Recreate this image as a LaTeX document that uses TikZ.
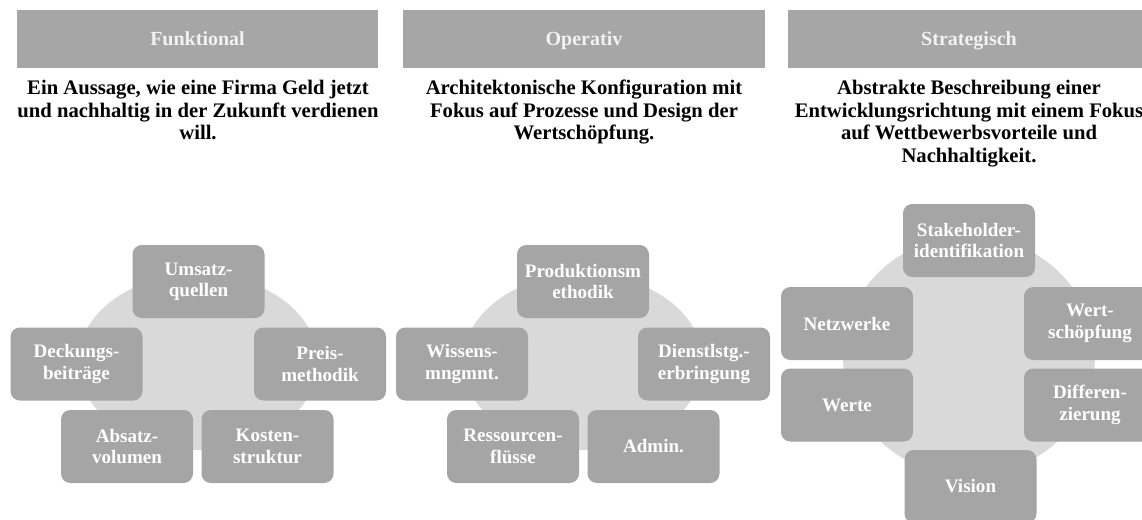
\documentclass[tikz,border=0pt]{standalone}
\usepackage{fontspec}
\setmainfont{Liberation Serif}
\usepackage{xcolor}
\usepackage{tikz}
\usetikzlibrary{positioning}

\definecolor{barg}{HTML}{A6A6A6}
\definecolor{boxg}{HTML}{A5A5A5}
\definecolor{discg}{HTML}{D9D9D9}

\begin{document}
\begin{tikzpicture}[x=0.75pt,y=-0.75pt,
  head/.style={fill=barg,text=white!95!black,font=\fontsize{15}{18}\selectfont\bfseries,minimum width=271pt,minimum height=43.5pt,inner sep=0pt,text height=10pt,text depth=0pt},
  desc/.style={align=center,font=\fontsize{15.5}{16.9}\selectfont\bfseries,inner sep=0pt,anchor=north},
  item/.style={fill=boxg,rounded corners=7pt,text=white,align=center,font=\fontsize{14.3}{16}\selectfont\bfseries,minimum width=99pt,minimum height=54.75pt,inner sep=0pt},
  disc/.style={fill=discg}]
\useasboundingbox (0,0) rectangle (1142,519);

% headers
\node[head] (hf) at (197.5,39) {Funktional};
\node[head] (ho) at (584,39) {Operativ};
\node[head] (hs) at (969,39) {Strategisch};

\node[desc] (tf) at (198,80) {Ein Aussage, wie eine Firma Geld jetzt\\und nachhaltig in der Zukunft verdienen\\will.};
\node[desc] (to) at (584,80) {Architektonische Konfiguration mit\\Fokus auf Prozesse und Design der\\Wertschöpfung.};
\node[desc] (ts) at (969,80) {Abstrakte Beschreibung einer\\Entwicklungsrichtung mit einem Fokus\\auf Wettbewerbsvorteile und\\Nachhaltigkeit.};

% backgrounds
\coordinate (cf) at (198,362);
\coordinate (co) at (583,362);
\coordinate (cs) at (969,356);
\fill[disc] (cf) ellipse [x radius=90pt, y radius=66pt];
\fill[disc] (co) ellipse [x radius=90pt, y radius=66pt];
\fill[disc] (cs) ellipse [x radius=94.5pt, y radius=90pt];

% funktional
\node[item] (uq) at (198.5,281.5) {Umsatz-\\quellen};
\node[item] (db) at (76.5,364) {Deckungs-\\beiträge};
\node[item] (pm) at (320,364) {Preis-\\methodik};
\node[item] (av) at (127,446.5) {Absatz-\\volumen};
\node[item] (ks) at (267.5,446.5) {Kosten-\\struktur};

% operativ
\node[item] (pr) at (583,281.5) {Produktionsm\\ethodik};
\node[item] (wm) at (462,364) {Wissens-\\mngmnt.};
\node[item] (dl) at (704,364) {Dienstlstg.-\\erbringung};
\node[item] (rf) at (513,446.5) {Ressourcen-\\flüsse};
\node[item] (ad) at (653.5,446.5) {Admin.};

% strategisch
\node[item] (sh) at (969,240.5) {Stakeholder-\\identifikation};
\node[item] (nw) at (847,323.5) {Netzwerke};
\node[item] (ws) at (1090,323.5) {Wert-\\schöpfung};
\node[item] (we) at (847,405) {Werte};
\node[item] (di) at (1090,405) {Differen-\\zierung};
\node[item] (vi) at (970.5,486.5) {Vision};
\end{tikzpicture}
\end{document}
